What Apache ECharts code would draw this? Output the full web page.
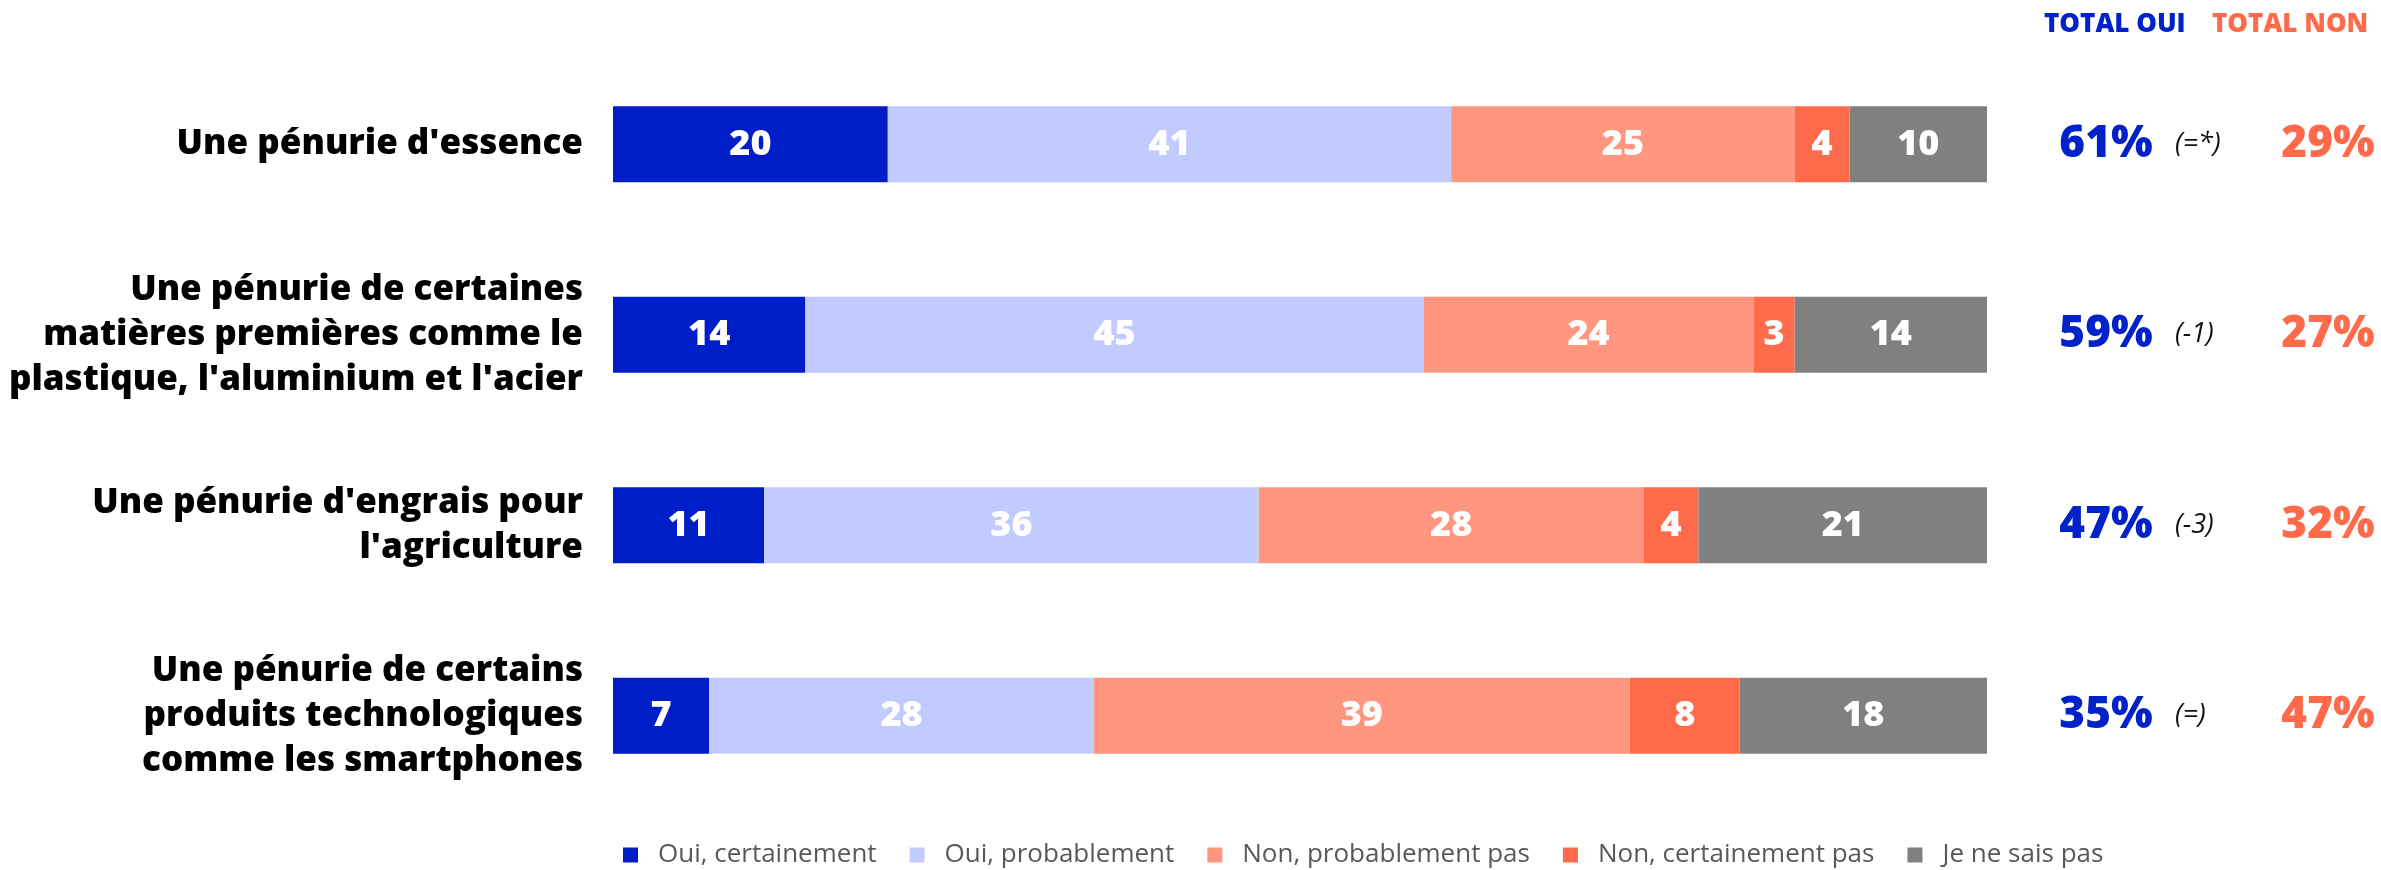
<!DOCTYPE html>
<html>
<head>
<meta charset="utf-8">
<script src="https://cdn.jsdelivr.net/npm/echarts@6/dist/echarts.min.js"></script>
<style>
html,body{margin:0;padding:0;background:#fff;}
#chart{width:2381px;height:870px;}
</style>
</head>
<body>
<div id="chart"></div>
<script>
// ---- data ----
const categories = [
  "Une pénurie d'essence",
  "Une pénurie de certaines\nmatières premières comme le\nplastique, l'aluminium et l'acier",
  "Une pénurie d'engrais pour\nl'agriculture",
  "Une pénurie de certains\nproduits technologiques\ncomme les smartphones"
];
const seriesNames = ["Oui, certainement", "Oui, probablement", "Non, probablement pas", "Non, certainement pas", "Je ne sais pas"];
const ouiCertainement = [20, 14, 11, 7];
const ouiProbablement = [41, 45, 36, 28];
const nonProbablementPas = [25, 24, 28, 39];
const nonCertainementPas = [4, 3, 4, 8];
const jeNeSaisPas = [10, 14, 21, 18];
const totalOui = [61, 59, 47, 35];
const totalNon = [29, 27, 32, 47];
const evolution = ["(=*)", "(-1)", "(-3)", "(=)"];
const headers = ["TOTAL OUI", "TOTAL NON"];

// ---- styles ----
const colors = ["#001EC8", "#C2CBFF", "#FF9780", "#FF6A4B", "#808080"];
const blue = "#0022C8", orange = "#FF6A4B";
const FONT = "'Open Sans', sans-serif";
const allValues = [ouiCertainement, ouiProbablement, nonProbablementPas, nonCertainementPas, jeNeSaisPas];

const chart = echarts.init(document.getElementById('chart'), null, {renderer: 'canvas'});

const barSeries = allValues.map((vals, k) => ({
  name: seriesNames[k],
  type: 'bar',
  stack: 'total',
  xAxisIndex: 0, yAxisIndex: 0,
  barWidth: 76,
  itemStyle: {color: colors[k]},
  label: {
    show: true, position: 'inside', color: '#fff',
    fontFamily: FONT, fontWeight: 800, fontSize: 36
  },
  emphasis: {disabled: true},
  data: vals
}));

function textScatter(xPos, vals, fmt, style) {
  return {
    type: 'scatter',
    xAxisIndex: 1, yAxisIndex: 1,
    symbolSize: 1,
    itemStyle: {color: 'rgba(0,0,0,0)', opacity: 1},
    silent: true,
    label: Object.assign({show: true, position: 'inside', opacity: 1, formatter: p => fmt(p.value[2])}, style),
    data: vals.map((v, i) => [xPos, i, v])
  };
}

const option = {
  animation: false,
  backgroundColor: '#fff',
  grid: [
    {left: 613, right: 394, top: 49, bottom: 59},
    {left: 2000, right: 0, top: 49, bottom: 59}
  ],
  xAxis: [
    {gridIndex: 0, type: 'value', min: 0, max: 100, show: false},
    {gridIndex: 1, type: 'value', min: 0, max: 381, show: false}
  ],
  yAxis: [
    {
      gridIndex: 0, type: 'category', inverse: true, data: categories,
      axisLine: {show: false}, axisTick: {show: false}, splitLine: {show: false},
      axisLabel: {
        margin: 30, color: '#000', fontFamily: FONT, fontWeight: 800,
        fontSize: 35, lineHeight: 45, align: 'right'
      }
    },
    {gridIndex: 1, type: 'category', inverse: true, data: categories, show: false}
  ],
  legend: {
    data: seriesNames,
    left: 623, top: 842, padding: 0,
    icon: 'rect', itemWidth: 15, itemHeight: 15, itemGap: 33,
    selectedMode: false,
    textStyle: {color: '#595959', fontFamily: FONT, fontSize: 26, padding: [0, 0, 0, 15]}
  },
  graphic: [
    {type: 'text', left: 2044, top: 12, style: {text: headers[0], fill: blue, font: "800 26px 'Open Sans'"}},
    {type: 'text', left: 2212, top: 12, style: {text: headers[1], fill: orange, font: "800 26px 'Open Sans'"}}
  ],
  series: barSeries.concat([
    textScatter(106, totalOui, v => v + '%', {color: blue, fontFamily: FONT, fontWeight: 800, fontSize: 44}),
    textScatter(175, evolution, v => v, {color: '#111', fontFamily: FONT, fontStyle: 'italic', fontSize: 27, align: 'left'}),
    textScatter(328, totalNon, v => v + '%', {color: orange, fontFamily: FONT, fontWeight: 800, fontSize: 44})
  ])
};
chart.setOption(option);
</script>
</body>
</html>
